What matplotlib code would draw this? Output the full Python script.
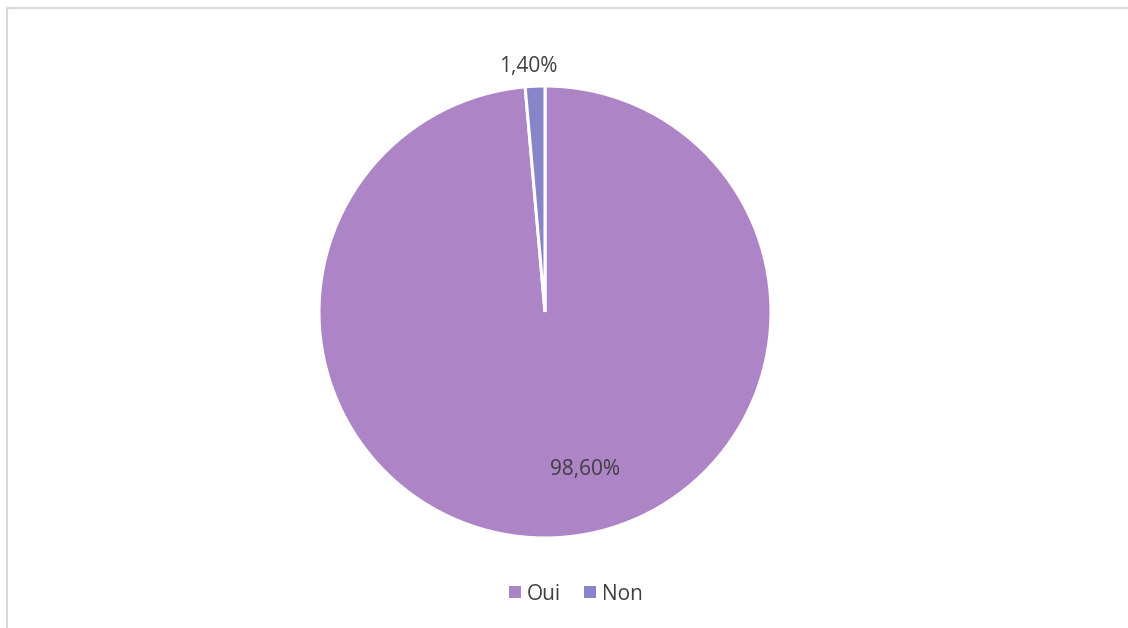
import numpy as np
import matplotlib
matplotlib.use("Agg")
import matplotlib.pyplot as plt
from matplotlib.lines import Line2D
from matplotlib.patches import Patch

plt.rcParams['font.family'] = ['Open Sans', 'DejaVu Sans']

categories = ["Oui", "Non"]
values = [98.60, 1.40]
colors = ["#AD84C6", "#8784C7"]
text_color = "#404040"

W, H = 1128, 628
fig = plt.figure(figsize=(W / 100, H / 100), dpi=100)
fig.patch.set_facecolor("white")

# chart frame (left and top edges)
fig.add_artist(Line2D([7 / W, 7 / W], [0, 1 - 8 / H], transform=fig.transFigure,
                      color="#D9D9D9", lw=1.5))
fig.add_artist(Line2D([7 / W, 1], [1 - 8 / H, 1 - 8 / H], transform=fig.transFigure,
                      color="#D9D9D9", lw=1.5))

cx, cy, r = 545, 312, 226
ax = fig.add_axes([(cx - r) / W, (H - cy - r) / H, 2 * r / W, 2 * r / H])
wedges, _ = ax.pie(values, colors=colors, startangle=90, counterclock=False,
                   wedgeprops=dict(edgecolor="white", linewidth=2.2))
ax.set_xlim(-1, 1)
ax.set_ylim(-1, 1)
ax.set_aspect("equal")
ax.axis("off")

def fmt(v):
    return f"{v:.2f}".replace(".", ",") + "%"

# label positions (angle in degrees, radial distance)
label_pos = [(-75.6, 0.72), (93.8, 1.09)]
for v, (ang, d) in zip(values, label_pos):
    a = np.deg2rad(ang)
    ax.text(d * np.cos(a), d * np.sin(a), fmt(v), ha="center", va="center",
            fontsize=15, color=text_color)

handles = [Patch(facecolor=c, edgecolor="none") for c in colors]
fig.legend(handles, categories, loc="center", bbox_to_anchor=(576 / W, 1 - 594 / H),
           ncol=2, frameon=False, fontsize=15, labelcolor=text_color,
           handlelength=0.55, handleheight=0.55, handletextpad=0.3, columnspacing=1.1)

fig.savefig("out.png", dpi=100, facecolor="white")
